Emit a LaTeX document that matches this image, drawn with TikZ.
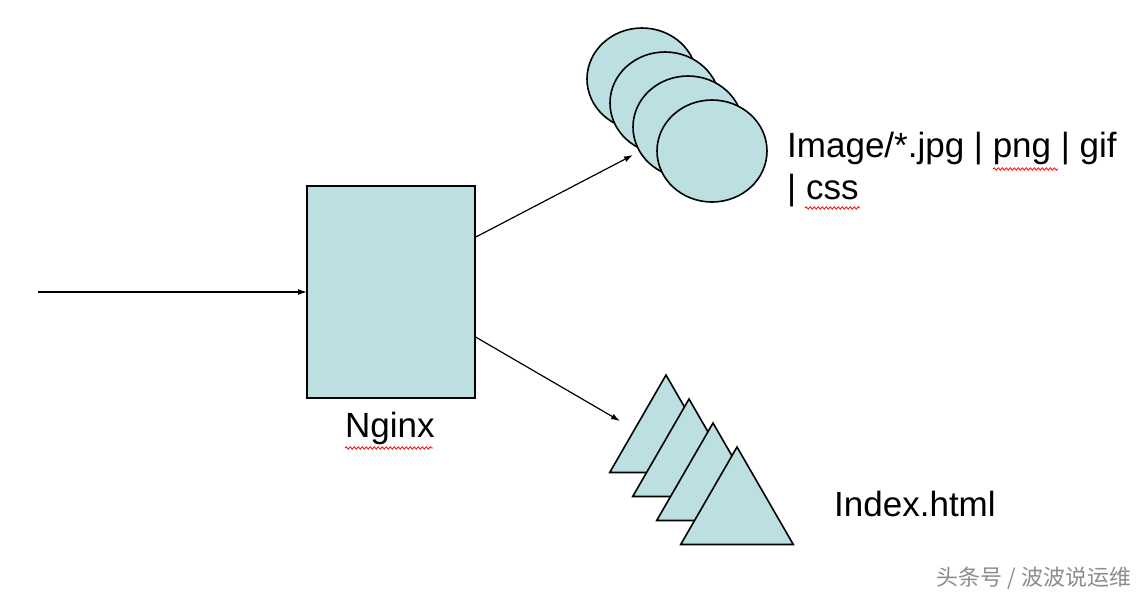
\documentclass[tikz,border=0pt]{standalone}
\usepackage{fontspec}
\setmainfont{Liberation Sans}
\newfontfamily\cjkfont{Noto Sans CJK SC}
\usetikzlibrary{shapes.geometric,arrows.meta,decorations.pathmorphing}

\definecolor{boxfill}{RGB}{188,223,226}

\begin{document}
\begin{tikzpicture}[x=1pt,y=-1pt]

      \useasboundingbox (0,0) rectangle (1148,597);

      \tikzset{
        lbl/.style={font=\fontsize{35}{42}\selectfont, inner sep=0pt, anchor=base west},
        wavy/.style={red, line width=0.8pt, decorate,
          decoration={snake, amplitude=1.2pt, segment length=4pt}}
      }

      \begin{scope}[every node/.style={draw, line width=1.6pt, fill=boxfill, inner sep=0pt, outer sep=0pt}]
        \node[rectangle, minimum width=168pt, minimum height=212pt] (nginx) at (391,292) {};
        % images
        \node[ellipse, minimum width=110pt, minimum height=102pt] (img1) at (642,79)  {};
        \node[ellipse, minimum width=110pt, minimum height=102pt] (img2) at (665,103) {};
        \node[ellipse, minimum width=110pt, minimum height=102pt] (img3) at (688,127) {};
        \node[ellipse, minimum width=110pt, minimum height=102pt] (img4) at (712,151) {};
        % pages
        \node[regular polygon, regular polygon sides=3, minimum size=130pt] (page1) at (666,440) {};
        \node[regular polygon, regular polygon sides=3, minimum size=130pt] (page2) at (689,464) {};
        \node[regular polygon, regular polygon sides=3, minimum size=130pt] (page3) at (713,488) {};
        \node[regular polygon, regular polygon sides=3, minimum size=130pt] (page4) at (737,512) {};
      \end{scope}

      \coordinate (in)      at (38,292);
      \coordinate (imgin)   at (633,155);
      \coordinate (pagein)  at (620,421);

      \begin{scope}[every edge/.style={draw, line width=1.2pt, -{Latex[length=9pt,width=6pt]}}]
        \path (in)          edge (nginx.west);
        \path (nginx.33.7)  edge (imgin);
        \path (nginx.-28.2) edge (pagein);
      \end{scope}

      \node[lbl] (imgtext) at (787,157) {Image/*.jpg | png | gif};
      \node[lbl] (csstext) at (787,199) {| css};
      \node[lbl] (ngtext)  at (345,437) {Nginx};
      \node[lbl] (idxtext) at (834,516) {Index.html};

      % spell check marks
      \draw[wavy] (993,169) -- (1058,169);
      \draw[wavy] (805,208) -- (860,208);
      \draw[wavy] (345,448) -- (433,448);

      \node[font=\cjkfont\fontsize{22}{26}\selectfont, text=black!45, inner sep=0pt] (mark) at (1034,578) {头条号 / 波波说运维};

    \end{tikzpicture}
\end{document}
